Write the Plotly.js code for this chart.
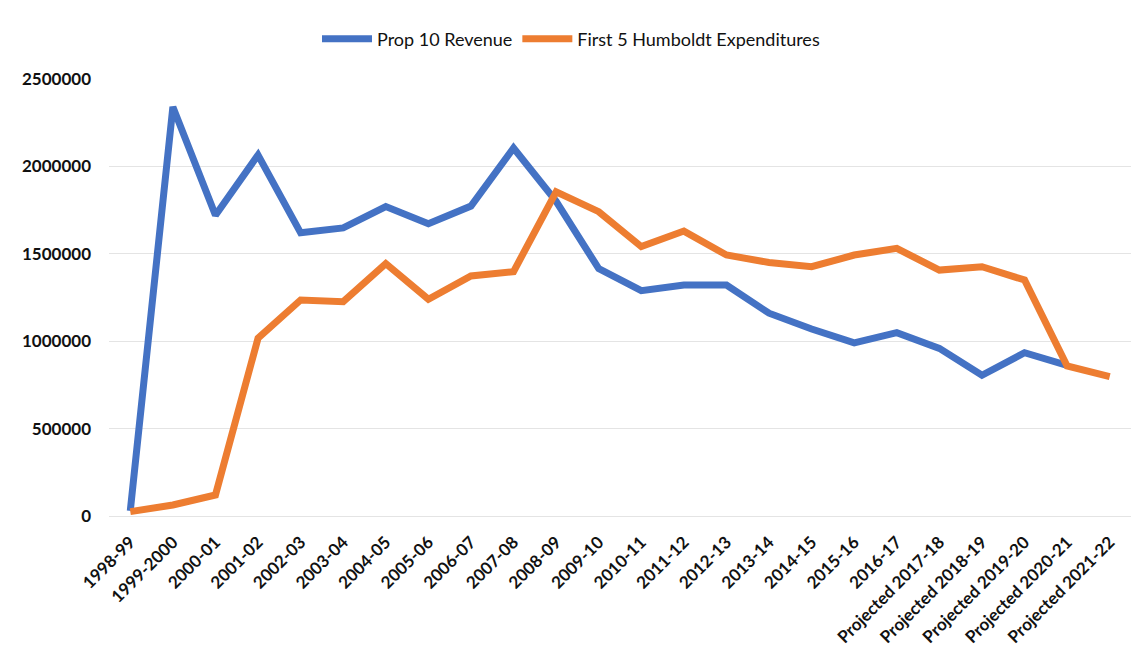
<!DOCTYPE html>
<html>
<head>
<meta charset="utf-8">
<script src="https://cdn.plot.ly/plotly-3.0.1.min.js"></script>
<style>html,body{margin:0;padding:0;background:#fff;}#chart{width:1142px;height:670px;}</style>
</head>
<body>
<div id="chart"></div>
<script>
const years = ["1998-99","1999-2000","2000-01","2001-02","2002-03","2003-04","2004-05","2005-06","2006-07","2007-08","2008-09","2009-10","2010-11","2011-12","2012-13","2013-14","2014-15","2015-16","2016-17","Projected 2017-18","Projected 2018-19","Projected 2019-20","Projected 2020-21","Projected 2021-22"];
const prop10Revenue = [30000,2340000,1720000,2065000,1620000,1648000,1770000,1672000,1773000,2105000,1800000,1415000,1289000,1321000,1321000,1160000,1070000,990000,1049000,959000,805000,934000,862000,null];
const first5Expenditures = [25000,63000,120000,1017000,1236000,1226000,1444000,1240000,1373000,1398000,1855000,1741000,1541000,1630000,1493000,1450000,1426000,1493000,1531000,1407000,1426000,1350000,858000,797000];
const seriesNames = ["Prop 10 Revenue","First 5 Humboldt Expenditures"];
const yTicks = [0,500000,1000000,1500000,2000000,2500000];

const traces = [
  {x: years, y: prop10Revenue, name: seriesNames[0], type: "scatter", mode: "lines",
   line: {color: "#4472C4", width: 7}},
  {x: years, y: first5Expenditures, name: seriesNames[1], type: "scatter", mode: "lines",
   line: {color: "#ED7D31", width: 7}}
];

const layout = {
  width: 1142, height: 670,
  margin: {l: 109, r: 11, t: 79, b: 154},
  paper_bgcolor: "#fff", plot_bgcolor: "#fff",
  font: {family: "Lato, 'Liberation Sans', sans-serif", color: "#111"},
  showlegend: true,
  legend: {orientation: "h", x: 0.5, xanchor: "center", xref: "container", yref: "container",
           y: 1 - 39/670, yanchor: "middle", itemwidth: 50,
           font: {size: 18, color: "#111"}, traceorder: "normal"},
  xaxis: {type: "category", range: [-0.5, 23.5], tickangle: -45, showgrid: false, zeroline: false,
          showline: false, ticks: "", ticklabelstandoff: 12,
          tickfont: {size: 17, color: "#111", weight: "bold"}},
  yaxis: {range: [0, 2500000], tickvals: yTicks, ticktext: yTicks.map(String),
          showgrid: true, gridcolor: "#e4e4e4", gridwidth: 1, zeroline: true, zerolinecolor: "#e4e4e4",
          showline: false, ticks: "", ticklabelstandoff: 17,
          tickfont: {size: 17, color: "#111", weight: "bold"}}
};

Plotly.newPlot("chart", traces, layout, {displayModeBar: false, staticPlot: true});
</script>
</body>
</html>
